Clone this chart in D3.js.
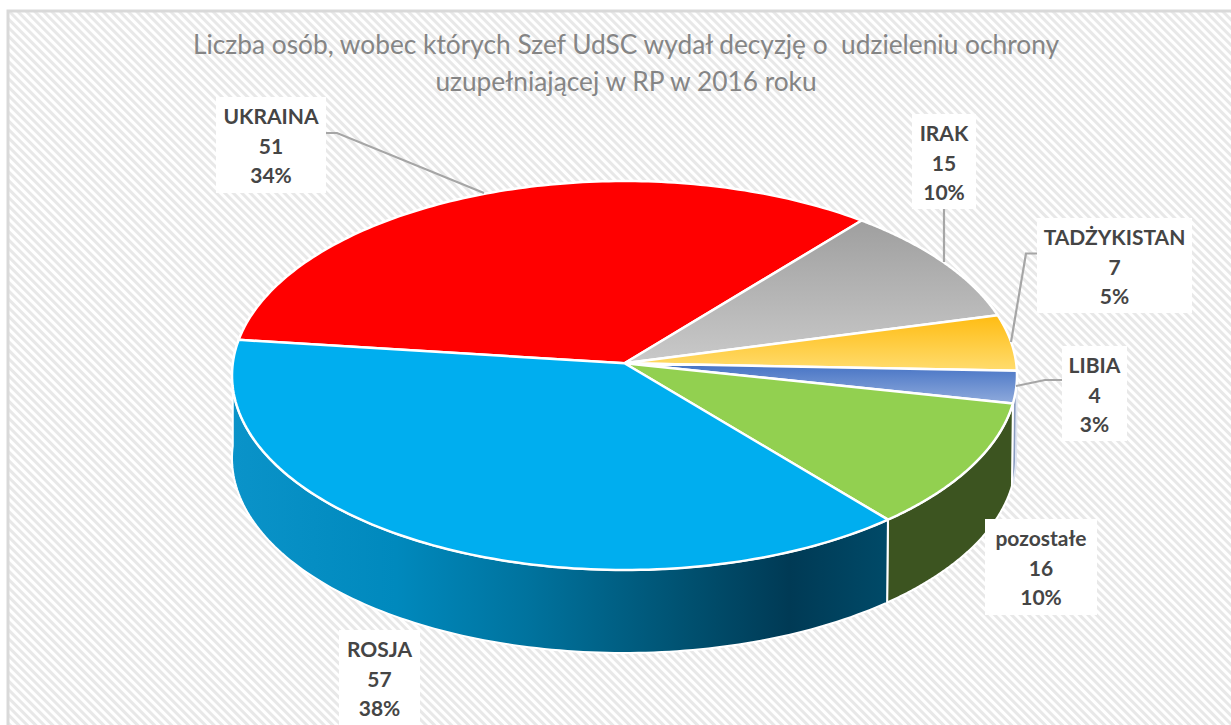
<!DOCTYPE html>
<html><head><meta charset="utf-8">
<script src="https://cdnjs.cloudflare.com/ajax/libs/d3/7.8.5/d3.min.js"></script>
<style>html,body{margin:0;padding:0;background:#fff;overflow:hidden}svg{display:block}</style>
</head><body><svg id="c" width="1231" height="725"></svg>
<script>
const categories = ["UKRAINA","IRAK","TADŻYKISTAN","LIBIA","pozostałe","ROSJA"];
const values = [51,15,7,4,16,57];
const percents = ["34%","10%","5%","3%","10%","38%"];
const topColors = [["#ff0000","#ff0000"],["#9f9f9f","#c9c9c9"],["#ffbc12","#ffdc6e"],["#4472c4","#8faadc"],["#92d050","#92d050"],["#00aeef","#00aeef"]];
const titleLines = ["Liczba osób, wobec których Szef UdSC wydał decyzję o  udzieleniu ochrony","uzupełniającej w RP w 2016 roku"];
const boxes = [[216,97,110,96],[912,114,64,95],[1037,218,155,95],[1062,346,65,95],[985,519,112,96],[339,630,81,95]];
const leaders = [[[326,133],[337,133],[484,193]],[[944,209],[944,262]],[[1037,253.5],[1026,253.5],[1011,342]],[[1062,380],[1045,380],[1016,386]]];

const W=1231,H=725;
const cx=624.5,cy=375.5,rx=392.5,ry=194.5,apexC=12.2/194.5;
const bcx=624,bcy=458,brx=392,bry=195;
const svg=d3.select("#c");
const defs=svg.append("defs");
const pat=defs.append("pattern").attr("id","hatch").attr("patternUnits","userSpaceOnUse").attr("width",6).attr("height",6).attr("patternTransform","rotate(45)");
pat.append("rect").attr("width",6).attr("height",6).attr("fill","#ffffff");
pat.append("rect").attr("width",6).attr("height",3).attr("fill","#e8e8e8");
topColors.forEach((c,i)=>{
  const g=defs.append("linearGradient").attr("id","g"+i).attr("x1",0).attr("y1",0).attr("x2",0).attr("y2",1);
  g.append("stop").attr("offset",0).attr("stop-color",c[0]);
  g.append("stop").attr("offset",1).attr("stop-color",c[1]);
});
const rg=defs.append("linearGradient").attr("id","rosjaSide").attr("gradientUnits","userSpaceOnUse").attr("x1",232).attr("x2",888).attr("y1",0).attr("y2",0);
[[0,"#0a93c9"],[0.25,"#0089bd"],[0.45,"#00739e"],[0.7,"#00506f"],[0.85,"#003a55"],[1,"#004a68"]].forEach(s=>rg.append("stop").attr("offset",s[0]).attr("stop-color",s[1]));

svg.append("rect").attr("x",0).attr("y",0).attr("width",W).attr("height",H).attr("fill","#fff");
svg.append("rect").attr("x",8).attr("y",11).attr("width",W+20).attr("height",H+20).attr("fill","url(#hatch)").attr("stroke","#d9d9d9").attr("stroke-width",3);

const pie=d3.pie().sort(null).startAngle(-83*Math.PI/180).endAngle((360-83)*Math.PI/180).value(d=>d);
const arcs=pie(values);
const s=Math.sqrt(1-apexC*apexC);
function topPt(a){
  const x=Math.sin(a),y=Math.cos(a),w=1+apexC*y;
  return [cx+rx*x*s/w, cy-ry*(y+apexC)/w];
}
function botPt(a){
  const p=topPt(a);
  const u=(p[0]-cx)/rx,v=(p[1]-cy)/ry;
  return [bcx+brx*u,bcy+bry*v];
}
const line=d3.line();
const samp=(a0,a1,f)=>d3.range(0,121).map(i=>f(a0+(a1-a0)*i/120));
const apex=[cx,cy-ry*apexC];

const lowLeft=Math.PI*1.5;
function wall(a0,a1,fill,stroke){
  const t=samp(a0,a1,topPt), b=samp(a0,a1,botPt).reverse();
  svg.append("path").attr("d",line(t.concat(b))+"Z").attr("fill",fill).attr("stroke",stroke).attr("stroke-width",2).attr("stroke-linejoin","round");
}
const A=arcs;
wall(A[3].startAngle+0.02,A[3].endAngle,"#8a9cc0","#dfe5f0");
wall(A[4].startAngle,A[4].endAngle,"#3c5420","#ffffff");
wall(A[5].startAngle,lowLeft,"url(#rosjaSide)","#ffffff");

arcs.forEach((d,i)=>{
  const pts=[apex].concat(samp(d.startAngle,d.endAngle,topPt));
  svg.append("path").attr("d",line(pts)+"Z").attr("fill",`url(#g${i})`).attr("stroke","#fff").attr("stroke-width",2.5).attr("stroke-linejoin","round");
});

svg.append("g").selectAll("text").data(titleLines).join("text")
  .attr("x",626).attr("y",(d,i)=>54+i*37).attr("text-anchor","middle")
  .attr("font-family","Lato").attr("font-size",26.3).attr("fill","#858585")
  .style("white-space","pre").text(d=>d);

svg.append("g").selectAll("path").data(leaders).join("path")
  .attr("d",d=>line(d)).attr("fill","none").attr("stroke","#a6a6a6").attr("stroke-width",2.2);

const lab=svg.append("g").selectAll("g").data(categories).join("g");
lab.append("rect").attr("x",(d,i)=>boxes[i][0]).attr("y",(d,i)=>boxes[i][1]).attr("width",(d,i)=>boxes[i][2]).attr("height",(d,i)=>boxes[i][3]).attr("fill","#fff");
lab.each(function(d,i){
  const b=boxes[i],g=d3.select(this);
  [d,values[i],percents[i]].forEach((t,k)=>{
    g.append("text").attr("x",b[0]+b[2]/2).attr("y",b[1]+27+k*29.5).attr("text-anchor","middle")
     .attr("font-family","Lato").attr("font-weight",700).attr("font-size",21).attr("fill","#454545").text(t);
  });
});
</script></body></html>
